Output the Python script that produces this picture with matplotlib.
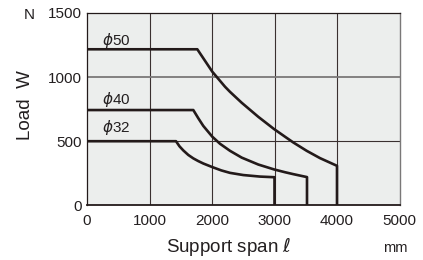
import matplotlib
matplotlib.use('Agg')
from matplotlib import pyplot as plt

# values (span in mm, load in N)
span_50 = [0, 1765, 2005, 2208, 2288, 2475, 2741, 2992, 3168, 3301, 3515, 3728, 3968, 4000, 4000]
load_50 = [1217, 1217, 1042, 925, 885, 800, 690, 595, 535, 490, 425, 368, 315, 308, 0]

span_40 = [0, 1701, 1781, 1861, 2005, 2128, 2288, 2475, 2741, 2992, 3168, 3301, 3520, 3520]
load_40 = [743, 743, 679, 619, 535, 480, 425, 372, 318, 280, 258, 243, 220, 0]

span_32 = [0, 1424, 1480, 1541, 1620, 1701, 1780, 1861, 2005, 2150, 2288, 2500, 2768, 3000, 3000]
load_32 = [500, 500, 460, 428, 393, 366, 345, 326, 298, 272, 253, 236, 224, 219, 0]

x_ticks = [0, 1000, 2000, 3000, 4000, 5000]
y_ticks = [0, 500, 1000, 1500]
labels = ['$\\phi$50', '$\\phi$40', '$\\phi$32']
label_y = [1282, 829, 603]

plt.rcParams['font.family'] = ['Liberation Sans', 'DejaVu Sans']

fig = plt.figure(figsize=(4.23, 2.6), dpi=100)
ax = fig.add_axes([87 / 423, 1 - 205.3 / 260, 312.5 / 423, 192.3 / 260])
ax.set_facecolor('#eceeed')

# grid: dark verticals, mixed horizontals
for x in x_ticks[1:-1]:
    ax.axvline(x, color='#3a3030', lw=0.8, zorder=1)
ax.axhline(500, color='#3a3030', lw=0.8, zorder=1)
ax.axhline(1000, color='#7a7878', lw=1.3, zorder=1)

for xs, ys in [(span_50, load_50), (span_40, load_40), (span_32, load_32)]:
    ax.plot(xs, ys, color='#231a1a', lw=1.9, solid_joinstyle='round', zorder=3)

for lab, ly in zip(labels, label_y):
    ax.text(240, ly, lab, fontsize=11, va='center', color='#231f20')

ax.set_xlim(0, 5000)
ax.set_ylim(0, 1500)
ax.set_xticks(x_ticks)
ax.set_yticks(y_ticks)
ax.tick_params(length=0, labelsize=11, colors='#231f20', pad=4)
ax.tick_params(axis='x', pad=6)
for side in ['top', 'left']:
    ax.spines[side].set_color('#231a1a')
    ax.spines[side].set_linewidth(0.9)
ax.spines['bottom'].set_color('#231a1a')
ax.spines['bottom'].set_linewidth(1.3)
ax.spines['right'].set_color('#7a7878')
ax.spines['right'].set_linewidth(1.0)

fig.text(25 / 423, 1 - 105 / 260, 'Load  W', fontsize=13.5, rotation=90,
         ha='center', va='center', color='#231f20')
fig.text(229 / 423, 1 - 247 / 260, 'Support span $\\ell$', fontsize=13.5,
         ha='center', va='center', color='#231f20')
fig.text(29 / 423, 1 - 15 / 260, 'N', fontsize=11, ha='center', va='center', color='#231f20')
fig.text(395 / 423, 1 - 248 / 260, 'mm', fontsize=10.5, ha='center', va='center', color='#231f20')

fig.savefig('out.png', dpi=100)
